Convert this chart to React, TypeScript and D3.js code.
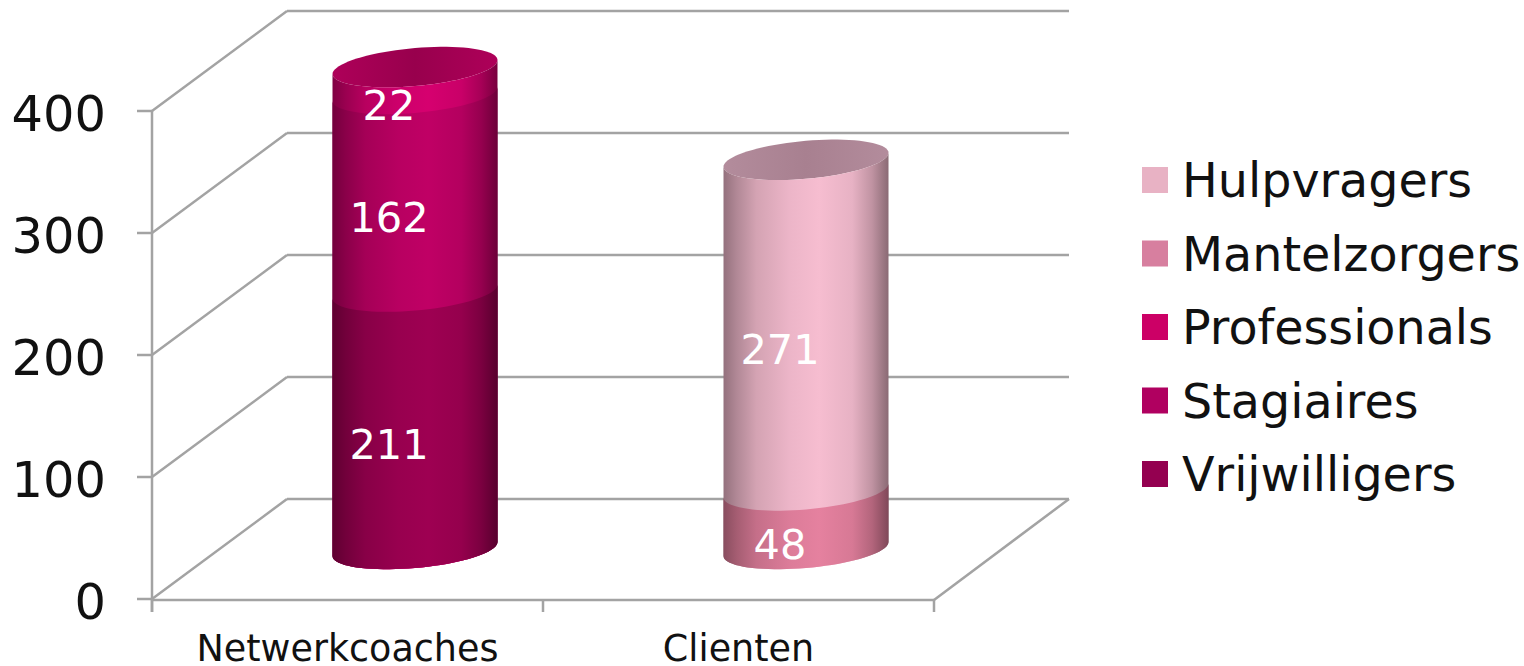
import React from 'react';
import * as d3 from 'd3';

const categories = ['Netwerkcoaches', 'Clienten'];
const seriesNames = ['Hulpvragers', 'Mantelzorgers', 'Professionals', 'Stagiaires', 'Vrijwilligers'];
const yTicks = [0, 100, 200, 300, 400];

// values per category, bottom of the stack first
const vrijwilligers = [211, 0];
const stagiaires = [162, 0];
const professionals = [22, 0];
const mantelzorgers = [0, 48];
const hulpvragers = [0, 271];

const stackOrder = [
	{ name: 'Vrijwilligers', values: vrijwilligers, color: '#9e0052' },
	{ name: 'Stagiaires', values: stagiaires, color: '#c00065' },
	{ name: 'Professionals', values: professionals, color: '#d6006f' },
	{ name: 'Mantelzorgers', values: mantelzorgers, color: '#e5819f' },
	{ name: 'Hulpvragers', values: hulpvragers, color: '#f6bdd0' },
];

const legendColors: Record<string, string> = {
	Hulpvragers: '#e8b2c4',
	Mantelzorgers: '#d77f9f',
	Professionals: '#cc0066',
	Stagiaires: '#b00060',
	Vrijwilligers: '#940050',
};

const topColors = [{ edge: '#ae0059', mid: '#98004d' }, { edge: '#b38c9c', mid: '#a88090' }];

const width = 1524;
const height = 666;
const left = 152;
const right = 934;
const depthX = 135;
const depthY = 100;
const gridColor = '#a3a3a3';
const font = '"DejaVu Sans", Verdana, sans-serif';

const x = d3.scaleBand<string>().domain(categories).range([left, right]);
const y = d3.scaleLinear().domain([0, 400]).range([599, 111]);

const barWidth = 165;
const rx = barWidth / 2;
const skew = 7;
const ry = 19;

const angles = d3.range(0, 41).map(i => (i / 40) * Math.PI);
const line = d3.line<[number, number]>().x(d => d[0]).y(d => d[1]);

const barCenter = (c: string) => (x(c) ?? 0) + x.bandwidth() / 2 + depthX / 2;
const barLevel = (v: number) => y(v) - depthY / 2;

const ringPoint = (cx: number, v: number, t: number): [number, number] => [
	cx + rx * Math.cos(t),
	barLevel(v) + ry * Math.sin(t) - skew * Math.cos(t),
];

// front of the cylinder from the base up to a stack level
const segmentPath = (cx: number, v0: number, v1: number) => {
	const upper = [...angles].reverse().map(t => ringPoint(cx, v1, t));
	const lower = angles.map(t => ringPoint(cx, v0, t));
	return line([...upper, ...lower]) + 'Z';
};

const topPath = (cx: number, v: number) => {
	const pts = d3.range(0, 81).map(i => ringPoint(cx, v, (i / 80) * 2 * Math.PI));
	return line(pts) + 'Z';
};

const shadeStops = [
	{ offset: 0, k: 0.6 },
	{ offset: 0.08, k: 0.72 },
	{ offset: 0.2, k: 0.86 },
	{ offset: 0.4, k: 0.96 },
	{ offset: 0.58, k: 1 },
	{ offset: 0.78, k: 0.94 },
	{ offset: 0.9, k: 0.78 },
	{ offset: 1, k: 0.56 },
];

const shade = (color: string, k: number) => {
	const c = d3.rgb(color);
	return d3.rgb(c.r * k, c.g * k, c.b * k).formatHex();
};

const App: React.FC = () => {
	const bars = categories.map((c, ci) => {
		const cx = barCenter(c);
		const stack = d3.stack<number>()
			.keys(stackOrder.map((_, i) => String(i)))
			.value((i, key) => stackOrder[+key].values[i])([ci === 0 ? 0 : 1]);
		const segments = stackOrder
			.map((s, i) => ({ s, v0: stack[i][0][0], v1: stack[i][0][1] }))
			.filter(d => d.v1 > d.v0);
		return { c, ci, cx, segments, total: d3.sum(segments, d => d.v1 - d.v0) };
	});

	return (
		<svg
			width={width}
			height={height}
			viewBox={`0 0 ${width} ${height}`}
			style={{ position: 'absolute', left: 0, top: 0, background: '#fff', fontFamily: font }}
		>
			<defs>
				{stackOrder.map((s, i) => (
					<linearGradient key={s.name} id={`seg${i}`} x1="0" x2="1" y1="0" y2="0">
						{shadeStops.map(st => (
							<stop key={st.offset} offset={st.offset} stopColor={shade(s.color, st.k)} />
						))}
					</linearGradient>
				))}
				{topColors.map((t, i) => (
					<linearGradient key={i} id={`top${i}`} x1="0" x2="1" y1="0" y2="0">
						<stop offset="0" stopColor={t.edge} />
						<stop offset="0.5" stopColor={t.mid} />
						<stop offset="1" stopColor={t.edge} />
					</linearGradient>
				))}
			</defs>

			{/* walls */}
			<g stroke={gridColor} strokeWidth={2.5} fill="none">
				{yTicks.map(t => (
					<g key={t}>
						<line x1={left + depthX} x2={right + depthX} y1={y(t) - depthY} y2={y(t) - depthY} />
						<line x1={left} x2={left + depthX} y1={y(t)} y2={y(t) - depthY} />
						<line x1={left - 15} x2={left} y1={y(t)} y2={y(t)} />
					</g>
				))}
				<line x1={left} x2={left} y1={y(400)} y2={y(0) + 13} />
				<line x1={left} x2={right} y1={y(0) + 1} y2={y(0) + 1} />
				<line x1={right} x2={right + depthX} y1={y(0) + 1} y2={y(0) - depthY} />
				{[left, left + x.bandwidth(), right].map(px => (
					<line key={px} x1={px} x2={px} y1={y(0) + 1} y2={y(0) + 13} />
				))}
			</g>

			{/* y axis */}
			<g fontSize={49.5} fill="#111" textAnchor="end">
				{yTicks.map(t => (
					<text key={t} x={106} y={y(t) + 20}>{t}</text>
				))}
			</g>

			{/* x axis */}
			<g fontSize={36.5} fill="#111" textAnchor="middle">
				{categories.map(c => (
					<text key={c} x={(x(c) ?? 0) + x.bandwidth() / 2} y={661}>{c}</text>
				))}
			</g>

			{/* cylinders, painted top down so the shared edges leave no seam */}
			{bars.map(b => (
				<g key={b.c}>
					<path d={topPath(b.cx, b.total)} fill={`url(#top${b.ci})`} />
					{[...b.segments].reverse().map(d => (
						<path
							key={d.s.name}
							d={segmentPath(b.cx, 0, d.v1)}
							fill={`url(#seg${stackOrder.indexOf(d.s)})`}
						/>
					))}
				</g>
			))}

			{/* value labels */}
			<g fontSize={41.5} fill="#fff" textAnchor="middle">
				{bars.flatMap(b => b.segments.map(d => (
					<text key={b.c + d.s.name} x={b.cx - 26} y={barLevel((d.v0 + d.v1) / 2) + 39}>
						{d.v1 - d.v0}
					</text>
				)))}
			</g>

			{/* legend */}
			<g>
				{seriesNames.map((name, i) => (
					<g key={name} transform={`translate(1142,${167 + i * 73.5})`}>
						<rect width={26} height={26} fill={legendColors[name]} />
						<text x={40} y={30} fontSize={47.6} fill="#111">{name}</text>
					</g>
				))}
			</g>
		</svg>
	);
};

export default App;
